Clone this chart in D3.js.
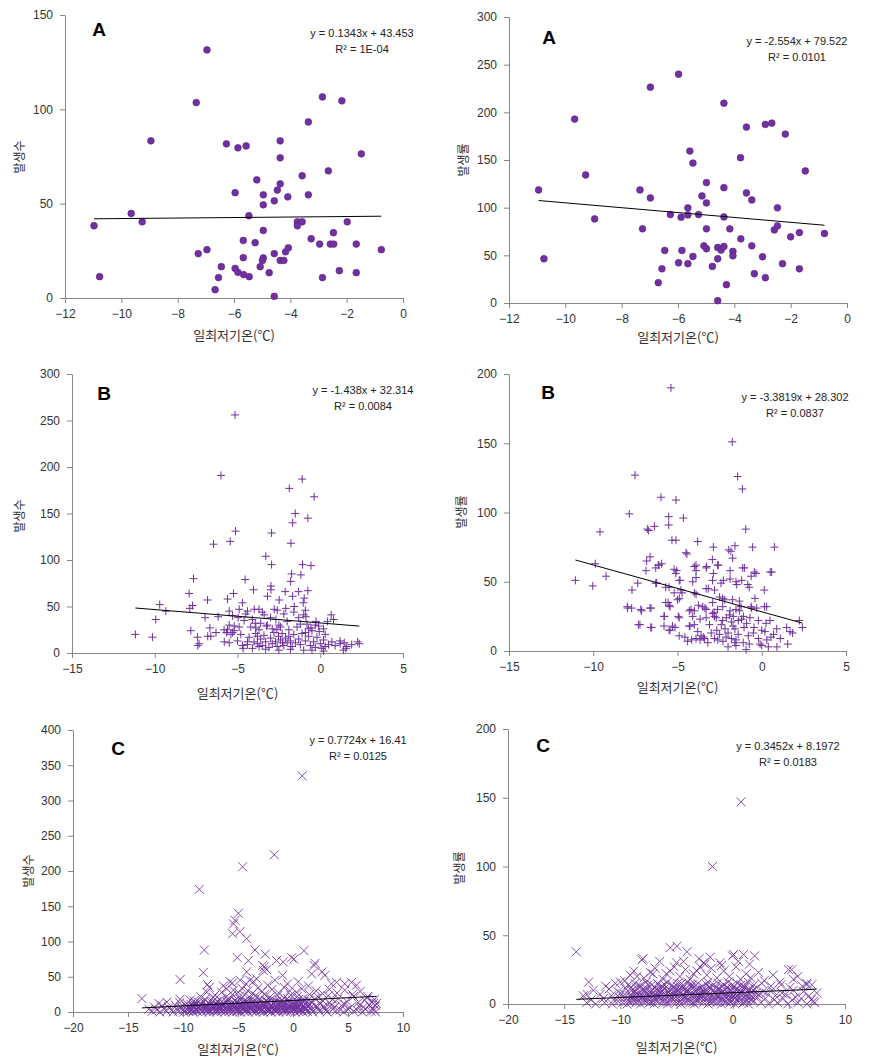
<!DOCTYPE html>
<html><head><meta charset="utf-8">
<script src="https://cdn.jsdelivr.net/npm/d3@7/dist/d3.min.js"></script>
<style>body{margin:0;background:#fff}</style></head>
<body><svg id="c" width="879" height="1062"></svg>
<script>
const xTitle = "일최저기온(℃)";
const countTitle = "발생수";
const rateTitle = "발생률";
const panelLetters = ["A", "A", "B", "B", "C", "C"];
const equations = ["y = 0.1343x + 43.453", "y = -2.554x + 79.522", "y = -1.438x + 32.314", "y = -3.3819x + 28.302", "y = 0.7724x + 16.41", "y = 0.3452x + 8.1972"];
const r2Labels = ["R² = 1E-04", "R² = 0.0101", "R² = 0.0084", "R² = 0.0837", "R² = 0.0125", "R² = 0.0183"];
const slopes = [0.1343, -2.554, -1.438, -3.3819, 0.7724, 0.3452];
const intercepts = [43.453, 79.522, 32.314, 28.302, 16.41, 8.1972];

const a1Points = [[-6.96,131.5],[-7.34,103.6],[-8.95,83.3],[-9.65,44.8],[-9.26,40.4],[-10.97,38.3],[-10.77,11.3],[-7.27,23.5],[-6.96,25.6],[-6.45,16.6],[-6.55,10.8],[-6.67,4.4],[-6.27,81.7],[-5.86,79.6],[-5.57,80.6],[-5.96,55.8],[-5.47,43.6],[-5.67,30.5],[-5.67,21.4],[-5.96,15.7],[-5.86,13.6],[-5.66,12.4],[-5.46,11.3],[-5.19,62.6],[-4.96,54.7],[-4.96,49.4],[-4.96,35.8],[-5.25,29.3],[-4.96,21.2],[-4.99,19.9],[-5.07,16.6],[-4.75,13.4],[-4.57,23.5],[-4.57,0.9],[-4.57,51.5],[-4.46,57.2],[-4.36,60.5],[-4.36,74.3],[-4.36,83.3],[-4.09,53.6],[-4.36,19.9],[-4.23,19.9],[-4.17,24.5],[-4.07,26.6],[-3.58,64.8],[-3.36,93.3],[-3.36,54.7],[-3.75,40.4],[-3.58,40.4],[-3.75,38.3],[-3.26,31.4],[-2.96,28.6],[-2.86,106.6],[-2.86,10.8],[-2.65,67.4],[-2.58,28.6],[-2.46,28.6],[-2.47,34.6],[-2.26,14.5],[-2.17,104.5],[-1.98,40.4],[-1.66,28.6],[-1.66,13.4],[-1.48,76.4],[-0.77,25.6]];

const a2Points = [[-10.95,118.6],[-10.76,46.4],[-9.67,192.9],[-9.28,134.3],[-8.96,88.2],[-7.35,118.6],[-7.26,77.8],[-6.98,226.4],[-6.98,110.2],[-6.7,21.3],[-6.57,35.9],[-6.47,55.1],[-6.27,92.8],[-5.98,240],[-5.98,42.2],[-5.86,55.1],[-5.89,90],[-5.65,99.8],[-5.65,92.4],[-5.65,41.2],[-5.58,159.4],[-5.47,146.8],[-5.47,48.8],[-5.27,92.8],[-5.15,112.3],[-5.08,60],[-4.99,126.3],[-4.99,105],[-4.99,77.8],[-4.99,56.9],[-4.78,38.4],[-4.59,46.4],[-4.59,58.2],[-4.59,2.4],[-4.47,55.5],[-4.37,209.6],[-4.37,121],[-4.37,90.3],[-4.37,59.3],[-4.28,19.2],[-4.16,77.8],[-4.05,54.1],[-4.05,49.5],[-3.78,152.4],[-3.77,67.3],[-3.57,184.5],[-3.57,115.5],[-3.38,108.1],[-3.38,60],[-3.29,30.7],[-3.0,48.5],[-2.9,187.3],[-2.9,26.5],[-2.67,188.7],[-2.58,76.7],[-2.47,80.9],[-2.47,99.8],[-2.29,41.2],[-2.19,177.2],[-2.0,69.4],[-1.69,73.9],[-1.69,35.9],[-1.48,138.5],[-0.8,72.9]];

const b1Points = [[-5.15,256],[-6.0,191],[-1.09,187],[-1.87,177],[-0.37,168],[-1.51,150],[-1.67,140],[-0.75,145],[-5.12,131],[-2.94,129],[-5.44,120],[-6.45,117],[-1.77,118],[-3.29,104],[-2.94,95],[-1.07,95],[-0.56,94],[-1.73,85],[-1.79,77],[-1.17,84],[-7.66,80],[-4.54,79],[-4.03,68],[-2.98,72],[-2.98,68],[-0.75,67],[-7.92,64],[-5.24,64],[-2.12,66],[-1.31,66],[-6.81,57],[-5.6,58],[-4.7,54],[-3.19,61],[-2.48,57],[-1.67,61],[-0.97,59],[-9.7,52],[-9.33,45],[-9.94,36],[-11.17,20],[-10.14,17],[-7.72,51],[-7.88,48],[-7.82,24],[-7.42,17],[-7.32,10],[-7.4,8],[-6.96,38],[-6.61,18],[-6.67,27],[-6.17,39],[-5.5,45],[-5.81,25],[-5.67,22],[-5.5,11],[-5.3,22],[-5.2,29],[-4.96,38],[-4.9,47],[-4.66,5],[-4.4,9],[-3.99,47],[-3.93,32],[-3.89,27],[-3.79,18],[-3.69,7],[-3.39,41],[-3.25,29],[-2.78,47],[-2.68,36],[-2.62,25],[-2.52,18],[-2.28,11],[-2.08,48],[-1.57,50],[-1.03,54],[-0.87,39],[-0.56,27],[-0.26,34],[-0.06,23],[0.3,7],[0.66,41],[0.44,34],[1.45,11],[1.55,5],[2.26,12],[2.36,10],
[-5.6,25],[-5.4,20],[-5.2,24],[-5.5,30],[-5.0,13],[-4.8,20],[-4.6,35],[-4.4,12],[-4.2,28],[-4.3,17],[-4.1,5],[-4.0,12],[-3.8,10],[-3.7,25],[-3.6,15],[-3.5,8],[-3.4,19],[-3.3,12],[-3.2,30],[-3.1,6],[-3.0,16],[-2.9,10],[-2.8,22],[-2.7,12],[-2.6,7],[-2.5,30],[-2.4,14],[-2.3,21],[-2.2,8],[-2.1,16],[-2.0,11],[-1.9,25],[-1.8,13],[-1.7,7],[-1.6,20],[-1.5,11],[-1.4,28],[-1.3,15],[-1.2,9],[-1.1,21],[-1.0,3],[-0.9,13],[-0.8,31],[-0.7,18],[-0.6,8],[-0.5,24],[-0.4,12],[-0.3,6],[-0.2,17],[-0.1,29],[0.0,10],[0.1,5],[0.2,14],[0.3,20],[0.5,9],[0.7,12],[0.9,8],[1.2,10],[1.6,7],[1.9,9],[-4.5,42],[-3.5,44],[-2.2,42],[-1.6,44],[-0.9,46],[-3.0,38],[-2.0,34],[-1.3,38],[-0.3,30],[0.2,26],[-4.9,28],[-5.8,12],[-6.3,22],[-6.8,18],[-3.9,21],[-2.9,26],[-1.9,18],[-0.9,22],[-4.7,8],[-3.3,4],[-2.5,3],[-1.8,4],[-0.5,3],[0.2,2],[1.4,3],[-5.3,40],[-4.1,36],[-3.6,32],[-2.4,28],[-1.2,31],[-0.7,26],[0.8,36],[1.2,13],[-3.7,47],[-4.4,45],[-2.6,46],[-1.0,41]];

const b2Points = [[-5.39,190],[-1.75,151],[-7.52,127],[-1.43,126],[-1.15,117],[-5.98,111],[-5.09,109],[-7.86,99],[-5.52,97],[-4.65,96],[-5.52,91],[-9.6,86],[-6.71,87],[-6.37,90],[-0.95,88],[-5.33,80],[-5.09,80],[-3.8,79],[-4.44,70],[-2.87,75],[-1.59,76],[-0.54,75],[0.75,75],[-1.83,72],[-1.73,67],[-2.93,66],[-6.63,68],[-6.83,65],[-6.87,58],[-6.14,62],[-5.94,63],[-3.9,62],[-3.9,58],[-3.27,61],[-2.58,62],[-1.88,58],[-1.03,60],[-0.34,56],[0.59,57],[-5.05,58],[-4.85,51],[-3.9,53],[-2.87,56],[-2.28,51],[-1.88,52],[-1.49,48],[-1.19,51],[-0.74,46],[0.15,44],[-11.06,51],[-10.03,47],[-9.88,63],[-9.24,54],[-7.36,49],[-7.7,44],[-7.96,31],[-7.72,31],[-7.13,29],[-7.23,19],[-6.53,17],[-6.57,31],[-6.24,49],[-5.5,46],[-5.56,35],[-5.44,32],[-5.78,25],[-5.44,15],[-5.15,17],[-4.95,25],[-4.89,38],[-4.73,42],[-4.3,29],[-4.26,18],[-4.16,8],[-4.56,10],[-3.9,41],[-3.76,33],[-3.66,23],[-3.66,8],[-3.47,10],[-3.37,31],[-3.17,45],[-2.91,35],[-2.83,28],[-2.81,25],[-2.67,15],[-2.61,8],[-2.32,38],[-2.32,22],[-2.18,16],[-2.12,10],[-1.88,29],[-1.73,37],[-1.69,25],[-1.59,16],[-1.53,8],[-1.53,4],[-1.39,22],[-1.23,32],[-1.09,25],[-1.05,17],[-0.93,1],[-0.74,5],[-0.6,31],[-0.4,38],[-0.3,31],[-0.46,17],[-0.2,9],[0.19,14],[0.25,20],[0.29,32],[0.39,3],[0.49,22],[0.55,10],[0.89,16],[1.48,17],[1.68,14],[1.54,5],[2.23,22],[2.41,17],[1.83,13],
[-6.79,88],[-4.5,71],[-1.96,73],[-6.1,62],[-6.29,60],[-5.2,59],[-5.1,56],[-4.0,61],[-3.3,60],[-2.62,62],[-1.13,60],[-0.44,57],[0.5,57],[-4.9,51],[-4.1,50],[-2.92,51],[-2.42,49],[-1.53,50],[-0.83,48],[-0.63,54],[-6.29,49],[-5.7,46],[-5.2,42],[-4.8,44],[-4.0,42],[-3.3,45],[-2.8,44],[-2.5,39],[-2.2,37],[-1.33,36],[-0.63,32],[0.16,32],[-7.98,32],[-7.18,30],[-6.63,31],[-5.7,35],[-5.5,33],[-5.0,37],[-4.2,30],[-4.0,29],[-3.5,32],[-3.3,30],[-2.92,27],[-2.62,30],[-2.32,32],[-1.92,26],[-1.53,30],[-1.33,29],[-5.8,25],[-4.9,24],[-4.1,25],[-3.3,24],[-3.1,19],[-2.7,24],[-2.4,19],[-2.1,24],[-1.8,21],[-1.7,18],[-1.2,23],[-0.9,20],[-0.7,24],[-0.2,22],[0.0,15],[-7.32,19],[-6.59,17],[-5.8,18],[-5.5,15],[-5.3,18],[-4.3,18],[-4.0,19],[-3.8,14],[-3.6,11],[-3.4,9],[-3.0,13],[-2.8,9],[-2.5,12],[-2.3,7],[-2.0,13],[-1.8,9],[-1.4,12],[-1.1,6],[-0.8,11],[-0.5,13],[-0.1,5],[0.3,8],[0.7,12],[1.1,9],[-4.9,11],[-4.4,7],[-3.9,9],[-3.2,6],[-2.0,3],[-1.6,6],[0.0,4],[0.9,3]];

const c1Points = [[0.83,335],[-1.7,223],[-4.58,206],[-8.51,174],[-4.97,140],[-5.27,130],[-5.4,125],[-5.49,111],[-4.82,114],[-4.22,104],[-8.06,88],[-3.46,88],[-2.52,82],[-5.06,77],[-4.06,73],[-1.5,73],[-0.89,71],[-0.13,77],[0.08,75],[0.99,87],[-2.76,66],[-2.4,60],[-2.61,64],[-2.7,59],[1.92,66],[2.0,69],[1.7,54],[2.65,57],[2.9,52],[-10.26,46],[-8.15,56],[-7.78,39],[-7.6,35],[-6.33,37],[-5.72,43],[-5.52,41],[-4.82,45],[-4.21,57],[-3.91,45],[-3.3,47],[-4.28,40],[-3.6,43],[-1.64,45],[-0.95,52],[-0.5,40],[0.47,43],[3.5,40],[3.96,42],[4.71,40],[5.32,42],[5.77,38],[-13.74,19],[7.58,12],
[-11.47,14],[-10.26,18],[-9.35,17],[-7.84,28],[-7.24,21],[-6.48,28],[-6.03,33],[-5.42,31],[-5.0,28],[-4.6,33],[-4.1,30],[-3.7,26],[-3.2,34],[-2.8,29],[-2.3,38],[-1.9,32],[-1.3,27],[-0.8,35],[-0.3,30],[0.3,28],[0.8,33],[1.4,37],[2.1,30],[2.7,26],[3.3,32],[4.0,27],[4.7,31],[5.4,25],[6.1,29],[6.8,22],[7.4,18],
[-8.4,22],[-7.1,24],[-6.1,21],[-5.5,25],[-4.9,22],[-4.4,24],[-3.9,20],[-3.4,23],[-2.6,25],[-2.1,21],[-1.4,23],[-0.8,20],[-0.2,24],[0.4,22],[0.9,19],[1.5,25],[2.3,21],[3.2,23],[4.1,19],[5.5,22],[6.7,20],
[-9.0,16],[-8.0,18],[-7.3,15],[-6.6,17],[-5.8,19],[-5.3,16],[-4.8,18],[-4.2,15],[-3.5,17],[-3.0,19],[-2.5,16],[-2.0,18],[-1.5,15],[-1.0,17],[-0.5,19],[0.0,16],[0.5,18],[1.0,15],[1.4,17],[2.0,19],[2.7,16],[3.6,18],[4.9,15],[6.5,17],[7.2,14],
[-12.2,12],[-10.3,13],[-9.3,11],[-8.6,14],[-7.7,12],[-7.0,13],[-6.5,11],[-6.0,14],[-5.6,12],[-5.0,13],[-4.6,11],[-4.1,14],[-3.7,12],[-3.2,13],[-2.7,11],[-2.3,14],[-1.8,12],[-1.3,13],[-0.9,11],[-0.4,14],[0.1,12],[0.6,13],[1.1,11],[1.7,14],[2.5,12],[3.3,13],[4.7,11],[5.9,13],[7.3,12],
[-11.9,9],[-10.7,10],[-9.7,8],[-8.9,10],[-8.5,9],[-7.9,8],[-7.5,10],[-6.8,9],[-6.4,8],[-5.9,10],[-5.4,9],[-5.1,8],[-4.7,10],[-4.3,9],[-4.0,8],[-3.6,10],[-3.3,9],[-2.8,8],[-2.4,10],[-1.9,9],[-1.5,8],[-1.2,10],[-0.7,9],[-0.3,8],[0.2,10],[0.6,9],[1.0,8],[1.5,10],[2.1,9],[2.8,8],[3.5,10],[4.4,9],[6.0,8],[6.9,10],[7.5,9],
[-12.6,7],[-11.3,6],[-10.2,7],[-9.4,5],[-9.0,7],[-8.6,6],[-8.1,7],[-7.8,5],[-7.4,7],[-7.1,6],[-6.7,7],[-6.4,5],[-6.0,7],[-5.7,6],[-5.3,7],[-5.0,5],[-4.6,7],[-4.3,6],[-3.9,7],[-3.6,5],[-3.2,7],[-2.9,6],[-2.5,7],[-2.2,5],[-1.8,7],[-1.5,6],[-1.1,7],[-0.8,5],[-0.4,7],[0.0,6],[0.3,7],[0.7,5],[1.1,7],[1.6,6],[2.2,7],[2.9,5],[3.8,7],[5.2,6],[6.4,7],[7.2,5],
[-13.1,4],[-12.4,3],[-11.7,4],[-11.0,3],[-10.5,4],[-10.0,3],[-9.6,4],[-9.2,3],[-8.8,4],[-8.4,3],[-8.0,4],[-7.7,3],[-7.3,4],[-7.0,3],[-6.6,4],[-6.3,3],[-5.9,4],[-5.6,3],[-5.2,4],[-4.9,3],[-4.5,4],[-4.2,3],[-3.8,4],[-3.5,3],[-3.1,4],[-2.8,3],[-2.4,4],[-2.1,3],[-1.7,4],[-1.4,3],[-1.0,4],[-0.7,3],[-0.3,4],[0.1,3],[0.4,4],[0.8,3],[1.2,4],[1.7,3],[2.3,4],[3.0,3],[3.6,4],[4.3,3],[5.0,4],[5.8,3],[6.6,4],[7.4,3],
[-12.8,1],[-12.1,0],[-11.5,1],[-10.9,0],[-10.4,1],[-9.9,0],[-9.5,1],[-9.1,0],[-8.7,1],[-8.3,0],[-7.9,1],[-7.6,0],[-7.2,1],[-6.9,0],[-6.5,1],[-6.2,0],[-5.8,1],[-5.5,0],[-5.1,1],[-4.8,0],[-4.4,1],[-4.1,0],[-3.7,1],[-3.4,0],[-3.0,1],[-2.7,0],[-2.3,1],[-2.0,0],[-1.6,1],[-1.3,0],[-0.9,1],[-0.6,0],[-0.2,1],[0.2,0],[0.5,1],[0.9,0],[1.3,1],[1.8,0],[2.4,1],[3.1,0],[3.9,1],[4.6,0],[5.5,1],[6.3,0],[7.1,1],[7.5,0]];

const c1Core = [[-9.8,2],[-9.55,6],[-9.3,3],[-9.05,9],[-8.8,2],[-8.55,6],[-8.3,11],[-8.05,3],[-7.8,8],[-7.55,2],[-7.3,6],[-7.05,10],[-6.8,3],[-6.55,7],[-6.3,12],[-6.05,2],[-5.8,8],[-5.55,4],[-5.3,11],[-5.05,2],[-4.8,7],[-4.55,13],[-4.3,3],[-4.05,9],[-3.8,5],[-3.55,12],[-3.3,2],[-3.05,8],[-2.8,4],[-2.55,11],[-2.3,3],[-2.05,7],[-1.8,13],[-1.55,2],[-1.3,9],[-1.05,5],[-0.8,12],[-0.55,3],[-0.3,8],[-0.05,4],[0.2,11],[0.45,6],[0.7,2],[0.95,9],[1.2,5],[1.45,12],
[-9.65,12],[-9.4,8],[-9.15,4],[-8.9,13],[-8.65,9],[-8.4,5],[-8.15,15],[-7.9,10],[-7.65,4],[-7.4,13],[-7.15,8],[-6.9,15],[-6.65,4],[-6.4,10],[-6.15,6],[-5.9,16],[-5.65,11],[-5.4,6],[-5.15,15],[-4.9,10],[-4.65,4],[-4.4,16],[-4.15,11],[-3.9,6],[-3.65,15],[-3.4,10],[-3.15,5],[-2.9,14],[-2.65,9],[-2.4,16],[-2.15,11],[-1.9,5],[-1.65,15],[-1.4,6],[-1.15,14],[-0.9,10],[-0.65,5],[-0.4,16],[-0.15,10],[0.1,5],[0.35,14],[0.6,10],[0.85,15],[1.1,3],[1.35,8]];

const c2Points = [[0.75,147],[-1.8,100],[-13.92,38],[-5.56,41],[-4.96,42],[-4.07,38],[-4.37,31],[-8.08,32],[-7.99,33],[-6.5,31],[-3.18,24],[-2.59,30],[-2.89,27],[-2.45,29],[-1.12,30],[0.08,36],[-0.01,35],[0.97,36],[1.95,35],[4.97,25],[5.26,25],[5.41,18],[6.6,15],[7.05,14],[-12.82,16],[-12.97,7],[-10.45,15],[-9.12,21],[-8.52,20],[-7.34,23],[-7.1,22],[-5.56,24],[-3.49,22],[6.59,14],[7.48,8],[7.19,2],
[-9.6,17],[-8.8,24],[-7.9,19],[-6.9,26],[-6.2,18],[-5.9,22],[-5.2,27],[-4.7,20],[-4.2,25],[-3.8,18],[-2.3,21],[-1.9,26],[-1.4,19],[-0.8,24],[-0.3,20],[0.3,27],[0.7,18],[1.2,22],[1.6,19],[2.3,23],[2.8,17],[3.6,21],[4.2,16],[5.8,20],[-1.0,28],[0.5,31],[-3.0,33],[-2.0,34],[1.5,29],[-5.0,30],
[-11.3,13],[-10.0,16],[-9.3,14],[-8.7,15],[-8.2,13],[-7.7,16],[-7.2,14],[-6.7,15],[-6.3,13],[-5.8,16],[-5.4,14],[-4.9,15],[-4.5,13],[-4.0,16],[-3.6,14],[-3.1,15],[-2.7,13],[-2.2,16],[-1.7,14],[-1.3,15],[-0.9,13],[-0.4,16],[0.0,14],[0.4,15],[0.9,13],[1.4,16],[1.9,14],[2.6,15],[3.4,13],[4.3,14],[5.1,12],[6.2,13],
[-12.4,10],[-11.0,11],[-10.2,9],[-9.5,11],[-9.0,10],[-8.6,12],[-8.1,10],[-7.7,11],[-7.3,9],[-6.9,12],[-6.5,10],[-6.1,11],[-5.7,9],[-5.3,12],[-4.9,10],[-4.5,11],[-4.1,9],[-3.7,12],[-3.3,10],[-2.9,11],[-2.5,9],[-2.1,12],[-1.7,10],[-1.3,11],[-0.9,9],[-0.5,12],[-0.1,10],[0.3,11],[0.7,9],[1.1,12],[1.5,10],[2.0,11],[2.7,9],[3.5,10],[4.4,8],[5.4,10],[6.3,9],
[-13.3,6],[-11.8,7],[-10.8,6],[-10.0,8],[-9.6,7],[-9.2,6],[-8.8,8],[-8.4,7],[-8.0,6],[-7.6,8],[-7.2,7],[-6.8,6],[-6.4,8],[-6.0,7],[-5.6,6],[-5.2,8],[-4.8,7],[-4.4,6],[-4.0,8],[-3.6,7],[-3.2,6],[-2.8,8],[-2.4,7],[-2.0,6],[-1.6,8],[-1.2,7],[-0.8,6],[-0.4,8],[0.0,7],[0.4,6],[0.8,8],[1.2,7],[1.7,6],[2.3,7],[3.0,8],[3.8,6],[4.7,7],[5.6,5],[6.8,6],
[-12.6,3],[-11.5,4],[-10.6,3],[-10.1,5],[-9.7,4],[-9.3,3],[-8.9,5],[-8.5,4],[-8.1,3],[-7.7,5],[-7.3,4],[-6.9,3],[-6.5,5],[-6.1,4],[-5.7,3],[-5.3,5],[-4.9,4],[-4.5,3],[-4.1,5],[-3.7,4],[-3.3,3],[-2.9,5],[-2.5,4],[-2.1,3],[-1.7,5],[-1.3,4],[-0.9,3],[-0.5,5],[-0.1,4],[0.3,3],[0.7,5],[1.1,4],[1.6,3],[2.2,5],[2.9,4],[3.7,3],[4.5,4],[5.3,3],[6.1,4],[7.0,3],
[-13.0,1],[-12.2,0],[-11.4,1],[-10.7,0],[-10.2,2],[-9.8,1],[-9.4,0],[-9.0,2],[-8.6,1],[-8.2,0],[-7.8,2],[-7.4,1],[-7.0,0],[-6.6,2],[-6.2,1],[-5.8,0],[-5.4,2],[-5.0,1],[-4.6,0],[-4.2,2],[-3.8,1],[-3.4,0],[-3.0,2],[-2.6,1],[-2.2,0],[-1.8,2],[-1.4,1],[-1.0,0],[-0.6,2],[-0.2,1],[0.2,0],[0.6,2],[1.0,1],[1.4,0],[1.9,2],[2.5,1],[3.2,0],[4.0,1],[4.9,0],[5.8,1],[6.6,0],[7.3,1]];

const c2Core = [[-9.2,1.5],[-8.95,5.5],[-8.7,9.5],[-8.45,3],[-8.2,7],[-7.95,11],[-7.7,2],[-7.45,6],[-7.2,10],[-6.95,3.5],[-6.7,8],[-6.45,12],[-6.2,2.5],[-5.95,6.5],[-5.7,10.5],[-5.45,4],[-5.2,9],[-4.95,13],[-4.7,2],[-4.45,7],[-4.2,11],[-3.95,3],[-3.7,8],[-3.45,12.5],[-3.2,2.5],[-2.95,6],[-2.7,10],[-2.45,4],[-2.2,8.5],[-1.95,12],[-1.7,2],[-1.45,6.5],[-1.2,10.5],[-0.95,3.5],[-0.7,8],[-0.45,12],[-0.2,2],[0.05,6],[0.3,10],[0.55,4],[0.8,8.5],[1.05,12.5],[1.3,2.5],[1.55,6.5],[1.8,10],
[-9.05,12],[-8.8,2.5],[-8.55,7.5],[-8.3,13],[-8.05,4.5],[-7.8,9],[-7.55,14],[-7.3,1.5],[-7.05,6],[-6.8,10.5],[-6.55,5],[-6.3,9.5],[-6.05,14],[-5.8,1.5],[-5.55,7],[-5.3,12],[-5.05,5.5],[-4.8,10],[-4.55,15],[-4.3,4.5],[-4.05,9.5],[-3.8,14],[-3.55,1],[-3.3,6],[-3.05,11],[-2.8,5],[-2.55,9.5],[-2.3,14],[-2.05,1.5],[-1.8,6.5],[-1.55,11.5],[-1.3,5],[-1.05,9],[-0.8,14],[-0.55,1.5],[-0.3,6.5],[-0.05,11.5],[0.2,4.5],[0.45,9],[0.7,13.5],[0.95,1],[1.2,6],[1.45,11],[1.7,3.5],[2.1,8]];

const panelData = [a1Points, a2Points, b1Points, b2Points, c1Points.concat(c1Core), c2Points.concat(c2Core)];
const yTitles = [countTitle, rateTitle, countTitle, rateTitle, countTitle, rateTitle];
const xDomains = [[-12,0],[-12,0],[-15,5],[-15,5],[-20,10],[-20,10]];
const yDomains = [[0,150],[0,300],[0,300],[0,200],[0,400],[0,200]];
const xSteps = [2,2,5,5,5,5];
const ySteps = [50,50,50,50,50,50];
const markers = ["circle","circle","plus","plus","cross","cross"];

// layout (pixel boxes of each plot area and label positions)
const layout = [
  {l:65, r:403, t:15, b:298, yt:[18,157], lt:[99,29], eq:[362,33], xt:340},
  {l:509, r:847, t:17, b:303, yt:[462,160], lt:[549,37], eq:[797,41], xt:342},
  {l:72, r:403, t:374, b:653, yt:[18,516], lt:[104,393], eq:[363,390], xt:698},
  {l:509, r:846, t:374, b:651, yt:[460,512], lt:[548,392], eq:[795,397], xt:692},
  {l:73, r:403, t:730, b:1012, yt:[27,871], lt:[118,748], eq:[358,740], xt:1054},
  {l:508, r:845, t:729, b:1004, yt:[458,868], lt:[543,745], eq:[788,746], xt:1052}
];

const svg = d3.select("#c");
const purple = "#7030A0";
const axisGrey = "#868686";

layout.forEach((L, i) => {
  const data = panelData[i];
  const x = d3.scaleLinear().domain(xDomains[i]).range([L.l, L.r]);
  const y = d3.scaleLinear().domain(yDomains[i]).range([L.b, L.t]);
  const g = svg.append("g");

  const xt = d3.range(xDomains[i][0], xDomains[i][1] + 1e-9, xSteps[i]);
  const yt = d3.range(yDomains[i][0], yDomains[i][1] + 1e-9, ySteps[i]);

  const gx = g.append("g").attr("transform", `translate(0,${L.b})`)
    .call(d3.axisBottom(x).tickValues(xt).tickSize(5).tickSizeOuter(0).tickPadding(6).tickFormat(d3.format("d")));
  const gy = g.append("g").attr("transform", `translate(${L.l},0)`)
    .call(d3.axisLeft(y).tickValues(yt).tickSize(5).tickSizeOuter(0).tickPadding(7).tickFormat(d3.format("d")));
  [gx, gy].forEach(a => {
    a.select(".domain").attr("stroke", axisGrey);
    a.selectAll(".tick line").attr("stroke", axisGrey);
    a.selectAll(".tick text").attr("fill", "#333").style("font-family", "'Liberation Sans', Arial, sans-serif").style("font-size", "12px");
  });

  const pts = g.append("g");
  if (markers[i] === "circle") {
    pts.selectAll("circle").data(data).join("circle")
      .attr("cx", d => x(d[0])).attr("cy", d => y(d[1])).attr("r", 3.4)
      .attr("fill", purple).attr("stroke", "#5c2787").attr("stroke-width", 0.6);
  } else if (markers[i] === "plus") {
    pts.selectAll("path").data(data).join("path")
      .attr("transform", d => `translate(${x(d[0])},${y(d[1])})`)
      .attr("d", "M-4,0H4M0,-4V4").attr("stroke", purple).attr("stroke-width", 1).attr("fill", "none");
  } else {
    pts.selectAll("path").data(data).join("path")
      .attr("transform", d => `translate(${x(d[0])},${y(d[1])})`)
      .attr("d", "M-4.5,-4.5L4.5,4.5M-4.5,4.5L4.5,-4.5").attr("stroke", purple).attr("stroke-opacity", 0.85).attr("stroke-width", 1).attr("fill", "none");
  }

  // trendline over data x-range
  const ext = d3.extent(data, d => d[0]);
  g.append("line")
    .attr("x1", x(ext[0])).attr("y1", y(slopes[i] * ext[0] + intercepts[i]))
    .attr("x2", x(ext[1])).attr("y2", y(slopes[i] * ext[1] + intercepts[i]))
    .attr("stroke", "#000").attr("stroke-width", 1);

  // texts
  g.append("text").attr("x", L.lt[0]).attr("y", L.lt[1]).attr("text-anchor", "middle").attr("dominant-baseline", "central")
    .style("font-family", "'Liberation Sans', Arial, sans-serif").style("font-weight", "bold").style("font-size", "19px").text(panelLetters[i]);
  g.append("text").attr("x", L.eq[0]).attr("y", L.eq[1]).attr("text-anchor", "middle").attr("dominant-baseline", "central")
    .style("font-family", "'Liberation Sans', Arial, sans-serif").style("font-size", "11px").attr("fill", "#222").text(equations[i]);
  g.append("text").attr("x", L.eq[0]).attr("y", L.eq[1] + 16).attr("text-anchor", "middle").attr("dominant-baseline", "central")
    .style("font-family", "'Liberation Sans', Arial, sans-serif").style("font-size", "11px").attr("fill", "#222").text(r2Labels[i]);
  g.append("text").attr("x", (L.l + L.r) / 2).attr("y", L.xt).attr("text-anchor", "middle")
    .style("font-family", "'Noto Sans CJK KR', sans-serif").style("font-size", "13px").attr("fill", "#333").text(xTitle);
  g.append("text").attr("transform", `translate(${L.yt[0]},${L.yt[1]}) rotate(-90)`).attr("text-anchor", "middle").attr("dominant-baseline", "central")
    .style("font-family", "'Noto Sans CJK KR', sans-serif").style("font-size", "12px").attr("fill", "#333").text(yTitles[i]);
});
</script>
</body></html>
